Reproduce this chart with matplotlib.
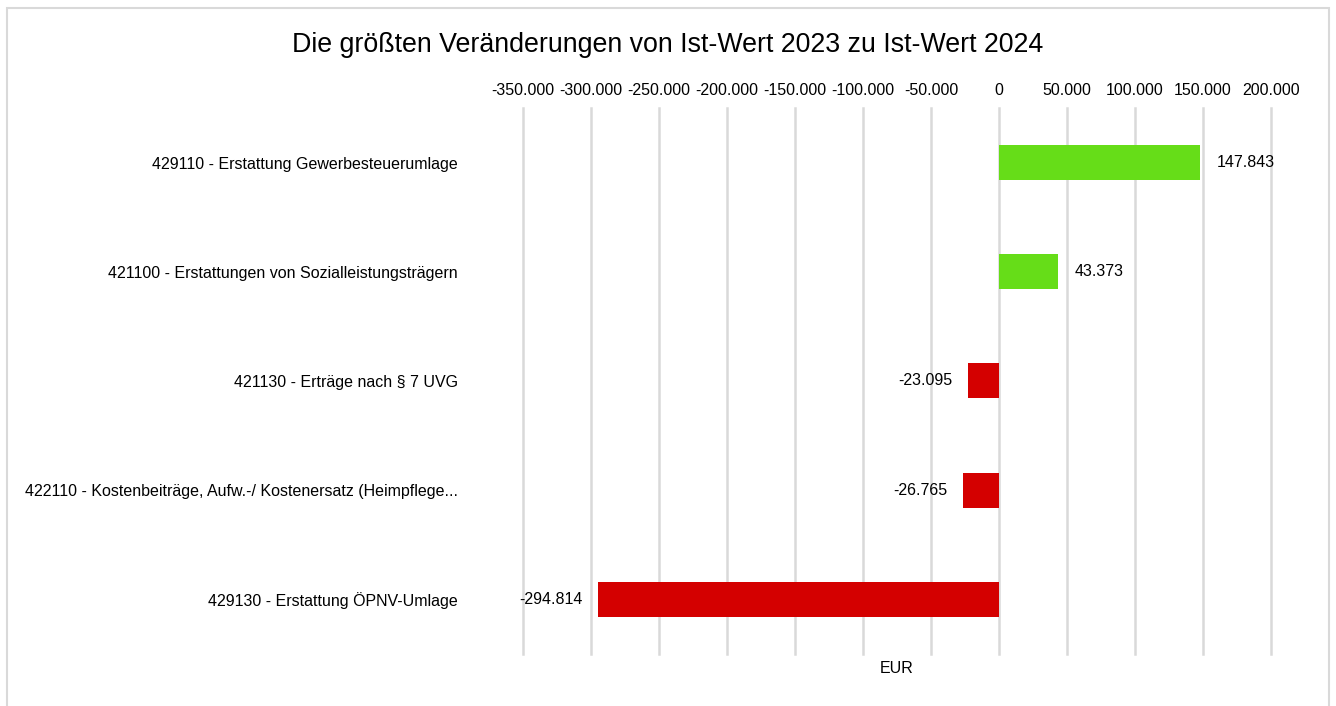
import matplotlib
matplotlib.use("Agg")
import matplotlib.pyplot as plt
from matplotlib.patches import Rectangle

plt.rcParams["font.family"] = ["Liberation Sans", "DejaVu Sans"]

categories = [
    "429110 - Erstattung Gewerbesteuerumlage",
    "421100 - Erstattungen von Sozialleistungsträgern",
    "421130 - Erträge nach § 7 UVG",
    "422110 - Kostenbeiträge, Aufw.-/ Kostenersatz (Heimpflege...",
    "429130 - Erstattung ÖPNV-Umlage",
]
values = [147843, 43373, -23095, -26765, -294814]
x_ticks = [-350000, -300000, -250000, -200000, -150000, -100000, -50000, 0,
           50000, 100000, 150000, 200000]


def fmt(v):
    return f"{v:,.0f}".replace(",", ".")


fig = plt.figure(figsize=(13.36, 7.06), dpi=100)
ax = fig.add_axes([0.3915, 0.0737, 0.5599, 0.7734])

# chart border
fig.patches.append(Rectangle((0.0052, -0.02), 0.9896, 1.0087, transform=fig.transFigure,
                             fill=False, edgecolor="#d9d9d9", linewidth=1.5))

pos = list(range(len(categories)))
colors = ["#66dd18" if v >= 0 else "#d40000" for v in values]
ax.barh(pos, values, height=0.32, color=colors, zorder=3)

for p, v in zip(pos, values):
    if v >= 0:
        ax.annotate(fmt(v), (v, p), xytext=(12, 0), textcoords="offset points",
                    ha="left", va="center", fontsize=11.5)
    else:
        ax.annotate(fmt(v), (v, p), xytext=(-11, 0), textcoords="offset points",
                    ha="right", va="center", fontsize=11.5)

ax.set_xlim(-350000, 200000)
ax.set_ylim(len(categories) - 0.5, -0.5)
ax.set_xticks(x_ticks)
ax.set_xticklabels([fmt(t) for t in x_ticks])
ax.xaxis.tick_top()
ax.tick_params(axis="x", length=0, pad=7, labelsize=11.5)
ax.set_yticks(pos)
ax.set_yticklabels(categories)
ax.tick_params(axis="y", length=0, pad=47, labelsize=11.5)
ax.grid(axis="x", color="#d9d9d9", linewidth=1.8, zorder=0)
for line in ax.get_xgridlines():
    line.set_clip_on(False)
for s in ax.spines.values():
    s.set_visible(False)

ax.set_xlabel("EUR", fontsize=11.5, labelpad=5)
ax.xaxis.set_label_position("bottom")

fig.text(0.5, 0.936, "Die größten Veränderungen von Ist-Wert 2023 zu Ist-Wert 2024",
         ha="center", va="center", fontsize=19.3)

fig.savefig("out.png", dpi=100)
